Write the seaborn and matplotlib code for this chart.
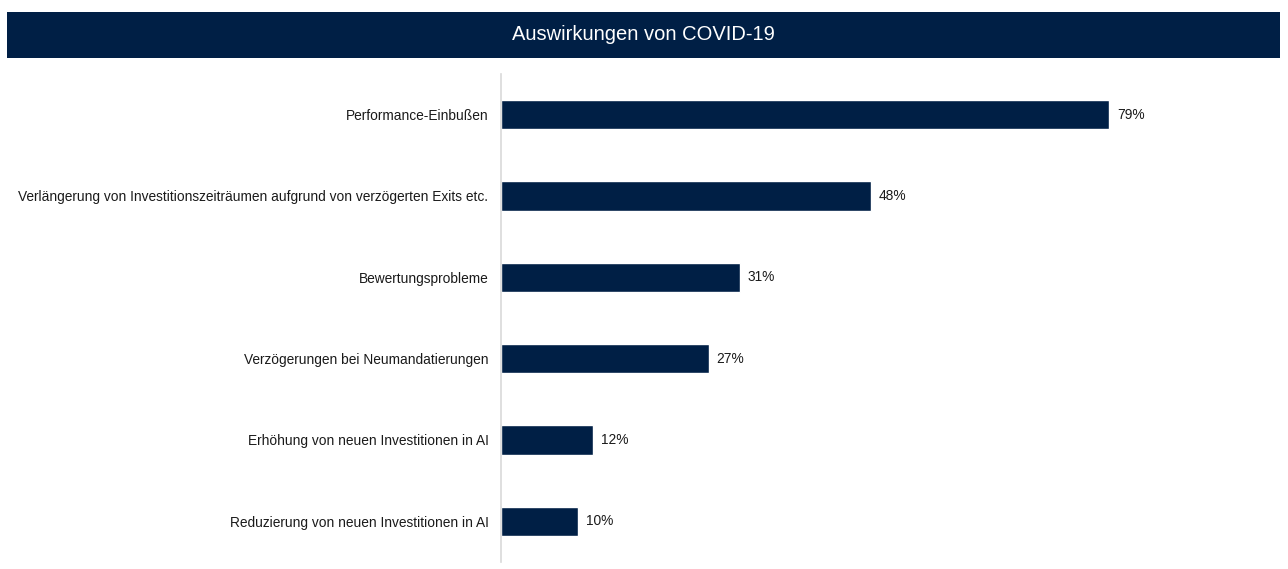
import matplotlib
matplotlib.use("Agg")
import matplotlib.pyplot as plt
import pandas as pd
import seaborn as sns

categories = [
    "Performance-Einbußen",
    "Verlängerung von Investitionszeiträumen aufgrund von verzögerten Exits etc.",
    "Bewertungsprobleme",
    "Verzögerungen bei Neumandatierungen",
    "Erhöhung von neuen Investitionen in AI",
    "Reduzierung von neuen Investitionen in AI",
]
values = [79, 48, 31, 27, 12, 10]
title = "Auswirkungen von COVID-19"

navy = "#001F45"

sns.set_theme(style="white")
plt.rcParams["font.family"] = ["Liberation Sans", "DejaVu Sans"]

df = pd.DataFrame({"label": categories, "pct": values})

fig = plt.figure(figsize=(12.88, 5.69), dpi=100)

# title banner
ban = fig.add_axes([7 / 1288, 1 - 58 / 569, 1273 / 1288, 46 / 569])
ban.set_facecolor(navy)
ban.set_xticks([])
ban.set_yticks([])
for s in ban.spines.values():
    s.set_visible(False)
ban.text(0.5, 0.5, title, color="white", fontsize=14.5, ha="center", va="center",
         transform=ban.transAxes)

ax = fig.add_axes([501 / 1288, 1 - 562 / 569, 770 / 1288, 488 / 569])
sns.barplot(data=df, x="pct", y="label", orient="h", color=navy, width=0.36,
            saturation=1, ax=ax)
ax.set_xlim(0, 100)
ax.set_ylim(5.5, -0.5)
ax.set_xlabel("")
ax.set_ylabel("")
ax.set_xticks([])
sns.despine(ax=ax, left=False, bottom=True)
ax.spines["left"].set_color("#D9D9D9")
ax.spines["left"].set_linewidth(1.2)
ax.tick_params(axis="y", length=0, pad=9, labelsize=9.9, labelcolor="#1a1a1a")

for i, v in enumerate(values):
    ax.text(v + 1.0, i, f"{v}%", va="center", ha="left", fontsize=9.9, color="#1a1a1a")

fig.savefig("out.png", dpi=100)
